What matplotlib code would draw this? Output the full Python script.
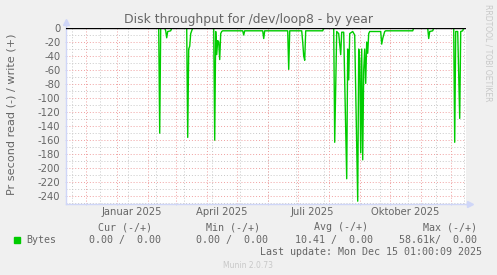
import matplotlib
matplotlib.use("Agg")
import matplotlib.pyplot as plt
import matplotlib.patches as mpatches
import pandas as pd

W, H = 497, 275

# read series (plotted negative), per day
read_dates = [
    "2024-11-11", "2025-02-12", "2025-02-13", "2025-02-14", "2025-02-18", "2025-02-19",
    "2025-02-20", "2025-02-21", "2025-02-24", "2025-02-25", "2025-03-12", "2025-03-13",
    "2025-03-14", "2025-03-15", "2025-03-16", "2025-03-17", "2025-03-18", "2025-04-08",
    "2025-04-09", "2025-04-10", "2025-04-11", "2025-04-12", "2025-04-13", "2025-04-14",
    "2025-04-15", "2025-04-16", "2025-04-17", "2025-05-07", "2025-05-08", "2025-05-09",
    "2025-05-27", "2025-05-28", "2025-05-29", "2025-06-21", "2025-06-22", "2025-06-23",
    "2025-07-05", "2025-07-06", "2025-07-07", "2025-07-08", "2025-07-09", "2025-07-26",
    "2025-07-27", "2025-08-06", "2025-08-07", "2025-08-09", "2025-08-11", "2025-08-13",
    "2025-08-14", "2025-08-16", "2025-08-19", "2025-08-20", "2025-08-21", "2025-08-22",
    "2025-08-25", "2025-08-27", "2025-08-30", "2025-08-31", "2025-09-01", "2025-09-02",
    "2025-09-03", "2025-09-04", "2025-09-05", "2025-09-06", "2025-09-07", "2025-09-08",
    "2025-09-09", "2025-09-10", "2025-09-11", "2025-09-22", "2025-09-23", "2025-09-24",
    "2025-09-25", "2025-09-26", "2025-09-27", "2025-10-24", "2025-10-25", "2025-11-08",
    "2025-11-09", "2025-11-10", "2025-11-13", "2025-11-14", "2025-12-04", "2025-12-05",
    "2025-12-06", "2025-12-08", "2025-12-10", "2025-12-11", "2025-12-13", "2025-12-14",
    "2025-12-16",
]
read_values = [
    0, 0, -150, 0, 0, -4,
    -14, -5, -4, 0, 0, -156,
    -30, -26, -8, -4, 0, 0,
    -160, -5, -38, -18, -20, -45,
    -8, -5, -4, -4, -10, -4,
    -4, -15, -4, -4, -59, -4,
    -4, -20, -40, -46, -4, -4,
    0, 0, -163, -5, -8, -38,
    -6, -6, -215, -30, -74, -8,
    -5, -10, -247, -30, -45, -178,
    -30, -188, -60, -30, -79, -20,
    -36, -8, -5, -5, -23, -15,
    -10, -5, -4, -4, 0, 0,
    -15, -5, -4, 0, 0, -163,
    -5, -5, -129, -5, -4, 0,
    0,
]

yticks = [0, -20, -40, -60, -80, -100, -120, -140, -160, -180, -200, -220, -240]
ytick_labels = ["0", "-20", "-40", "-60", "-80", "-100", "-120", "-140",
                "-160", "-180", "-200", "-220", "-240"]
xlabel_dates = ["2025-01-16", "2025-04-16", "2025-07-16", "2025-10-16"]
xlabel_texts = ["Januar 2025", "April 2025", "Juli 2025", "Oktober 2025"]

FONT = "#666666"
AXIS = "#CFD6F8"
GREEN = "#00CC00"

start = pd.Timestamp("2024-11-11 07:00")
end = start + pd.Timedelta(days=400)

fig = plt.figure(figsize=(W / 100, H / 100), dpi=100, facecolor="#F0F0F0")
ax = fig.add_axes([66 / W, 1 - 204 / H, 400 / W, 176 / H])
ax.set_facecolor("white")

ax.plot(pd.to_datetime(read_dates), read_values, color=GREEN, lw=1.0, zorder=3)
ax.axhline(0, color="black", lw=1.0, zorder=4)

ax.set_xlim(start, end)
ax.set_ylim(-251, 0)

# grid
months = pd.date_range("2024-12-01", "2025-12-01", freq="MS")
minor_x = pd.date_range("2024-11-17", "2025-12-15", freq="28D")
for d in minor_x:
    ax.axvline(d, color="#C8C8C8", lw=0.7, ls=(0, (1, 2)), zorder=1)
for d in months:
    ax.axvline(d, color="#F0A0A0", lw=0.7, ls=(0, (1, 2)), zorder=1)
for v in range(-10, -251, -20):
    ax.axhline(v, color="#C8C8C8", lw=0.7, ls=(0, (1, 2)), zorder=1)
for v in yticks[1:]:
    ax.axhline(v, color="#F0A0A0", lw=0.7, ls=(0, (1, 2)), zorder=1)

ax.set_yticks(yticks)
ax.set_yticklabels(ytick_labels)
ax.set_xticks(months)
ax.set_xticklabels([])
ax.tick_params(axis="both", length=2, width=0.7, color=AXIS, direction="inout",
               labelsize=7.2, labelcolor=FONT, pad=3)
for s in ("top", "right"):
    ax.spines[s].set_visible(False)
for s in ("left", "bottom"):
    ax.spines[s].set_color(AXIS)
    ax.spines[s].set_linewidth(1.0)

xt = ax.get_xaxis_transform()
for d, t in zip(pd.to_datetime(xlabel_dates), xlabel_texts):
    ax.text(d, -0.045, t, transform=xt, ha="center", va="center", fontsize=7.2, color=FONT)

# arrows at axis ends
ax.plot([0, 0], [1, 1.03], transform=ax.transAxes, color=AXIS, lw=1, clip_on=False)
ax.plot(0, 1.035, marker="^", ms=4, color=AXIS, transform=ax.transAxes, clip_on=False)
ax.plot([1, 1.0075], [0, 0], transform=ax.transAxes, color=AXIS, lw=1, clip_on=False)
ax.plot(1.01, 0, marker=">", ms=4, color=AXIS, transform=ax.transAxes, clip_on=False)


def px(x, y):
    return x / W, 1 - y / H


fig.text(*px(248.5, 19), "Disk throughput for /dev/loop8 - by year", ha="center", va="center",
         fontsize=8.9, color=FONT)
fig.text(*px(12, 114), "Pr second read (-) / write (+)", ha="center", va="center",
         rotation=90, fontsize=8.1, color=FONT)
fig.text(*px(488, 53), "RRDTOOL / TOBI OETIKER", ha="center", va="center", rotation=270,
         fontsize=5.5, color="#C8C8C8")

mono = dict(family="DejaVu Sans Mono", fontsize=7.2, color=FONT, va="center")
fig.text(*px(152, 227), "Cur (-/+)", ha="right", **mono)
fig.text(*px(260, 227), "Min (-/+)", ha="right", **mono)
fig.text(*px(368, 227), "Avg (-/+)", ha="right", **mono)
fig.text(*px(477, 227), "Max (-/+)", ha="right", **mono)
fig.patches.append(mpatches.Rectangle(px(14, 243), 6 / W, 6 / H, transform=fig.transFigure,
                                      color=GREEN, figure=fig))
fig.text(*px(26, 240), "Bytes", ha="left", **mono)
fig.text(*px(161, 240), "0.00 /  0.00", ha="right", **mono)
fig.text(*px(268, 240), "0.00 /  0.00", ha="right", **mono)
fig.text(*px(373, 240), "10.41 /  0.00", ha="right", **mono)
fig.text(*px(477, 240), "58.61k/  0.00", ha="right", **mono)
fig.text(*px(482, 252), "Last update: Mon Dec 15 01:00:09 2025", ha="right", **mono)
fig.text(*px(248, 265), "Munin 2.0.73", ha="center", va="center", fontsize=5.5, color="#C8C8C8")

fig.savefig("out.png", dpi=100, facecolor=fig.get_facecolor())
